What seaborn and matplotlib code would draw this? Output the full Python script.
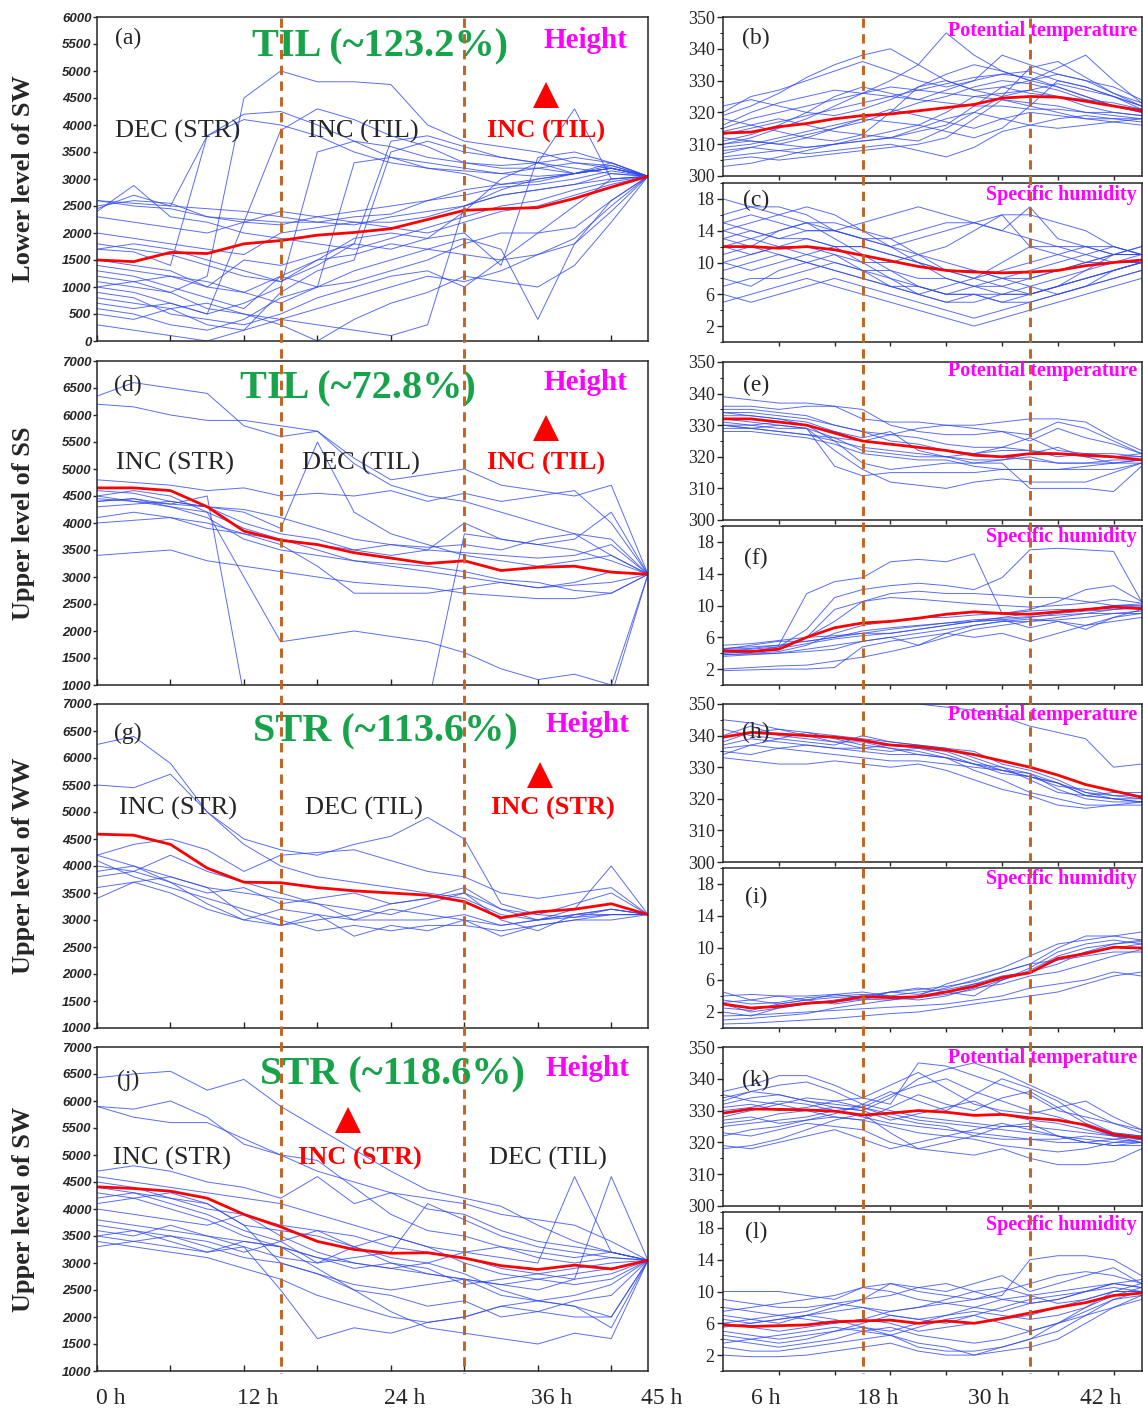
import numpy as np
import pandas as pd
import matplotlib
matplotlib.use("Agg")
import matplotlib.pyplot as plt
import matplotlib.transforms as mtransforms
from matplotlib.lines import Line2D
import seaborn as sns

# ---------------- data (3-hourly) ----------------
hours = list(range(0, 46, 3))

# (a) lower level of SW, height
a_mean = [1500, 1470, 1640, 1620, 1800, 1860, 1960, 2010, 2080, 2250, 2420, 2450, 2470, 2640, 2850, 3050]
a_lines = [
    [2500, 2600, 2550, 2300, 2200, 2150, 2300, 2400, 2500, 2600, 2800, 2900, 3000, 3100, 3200, 3050],
    [2600, 2550, 2500, 2450, 2400, 2300, 2200, 2300, 2350, 2600, 2700, 2850, 2900, 3000, 3150, 3050],
    [2450, 2700, 2500, 3800, 4200, 4250, 4000, 3700, 3400, 3200, 3100, 2900, 2950, 3100, 3250, 3050],
    [1700, 1650, 1400, 3800, 4100, 4000, 3800, 3500, 3300, 3200, 3150, 3100, 3200, 3300, 3250, 3050],
    [1100, 1000, 900, 1200, 4500, 5000, 4800, 4800, 4750, 4000, 3700, 3600, 3500, 3300, 3200, 3050],
    [700, 600, 700, 500, 2200, 3900, 4300, 4100, 3800, 3600, 3300, 3250, 3300, 3400, 3300, 3050],
    [1000, 900, 700, 500, 700, 1000, 3500, 3700, 3600, 3400, 3300, 3200, 3200, 3100, 3200, 3050],
    [1300, 1200, 1000, 800, 600, 1200, 1000, 3300, 3400, 3300, 3200, 3100, 3050, 3100, 3300, 3050],
    [500, 400, 600, 300, 200, 900, 1300, 1500, 3500, 3700, 3500, 3400, 3300, 3100, 3200, 3050],
    [1800, 1700, 1600, 1400, 1200, 1100, 1500, 1900, 2000, 1900, 2000, 1400, 3400, 3500, 3300, 3050],
    [900, 800, 500, 400, 300, 500, 800, 1000, 1200, 1300, 1000, 1500, 2000, 2500, 3000, 3050],
    [1500, 1400, 1300, 1000, 900, 1200, 1500, 1600, 1800, 1700, 1600, 1500, 1600, 1800, 2600, 3050],
    [2000, 1900, 1800, 1700, 1600, 2000, 2100, 2200, 2100, 2000, 2200, 2400, 2500, 2700, 2900, 3050],
    [600, 500, 300, 200, 400, 800, 1000, 1100, 1300, 1500, 1800, 2000, 2000, 2100, 2600, 3050],
    [1200, 1100, 900, 600, 500, 400, 600, 800, 1000, 1200, 1100, 1300, 1600, 1900, 2500, 3050],
    [800, 700, 600, 700, 500, 300, 0, 400, 700, 900, 1200, 1100, 1000, 1400, 2200, 3050],
    [2600, 2500, 2450, 2300, 2250, 2200, 2200, 2150, 2300, 2400, 2500, 2700, 2800, 2900, 3100, 3050],
    [1700, 1800, 1700, 1500, 1300, 1100, 1400, 1800, 3700, 3800, 3600, 3400, 3300, 3200, 3100, 3050],
    [300, 200, 100, 0, 200, 400, 300, 200, 100, 300, 2500, 2800, 3000, 3100, 3200, 3050],
    [1400, 1300, 1200, 1000, 1500, 1400, 1600, 1800, 1700, 1900, 2400, 3000, 3300, 4300, 3000, 3050],
    [1000, 1100, 1200, 1100, 900, 700, 1000, 1300, 1500, 1700, 1900, 1700, 400, 1800, 2400, 3050],
    [2300, 2200, 2100, 2000, 2200, 2400, 2300, 2200, 2200, 2300, 2500, 2700, 2800, 2900, 3000, 3050],
    [2400, 2880, 2300, 2200, 2000, 1900, 1800, 1700, 1900, 2100, 2300, 2500, 2600, 2800, 2950, 3050],
]

# (b) potential temperature / (c) specific humidity for (a)
b_mean = [313.5, 313.8, 315.5, 316.5, 318, 319, 319.5, 320.5, 321.5, 322.5, 324.5, 325, 324.8, 323.5, 322, 320.5]
b_lines = [
    [306, 307, 308, 309, 310, 312, 314, 316, 320, 325, 326, 327, 325, 322, 320, 319],
    [308, 309, 311, 313, 315, 317, 320, 323, 325, 328, 330, 329, 327, 324, 322, 320],
    [310, 312, 315, 318, 322, 326, 330, 335, 345, 338, 333, 330, 328, 325, 322, 321],
    [315, 318, 320, 322, 324, 326, 328, 327, 326, 325, 324, 323, 322, 320, 319, 318],
    [320, 325, 327, 330, 333, 336, 333, 330, 328, 330, 332, 333, 330, 328, 325, 322],
    [312, 311, 310, 309, 310, 311, 312, 314, 316, 322, 328, 326, 325, 324, 323, 321],
    [305, 306, 305, 306, 307, 308, 309, 310, 312, 318, 324, 322, 320, 318, 317, 316],
    [318, 316, 314, 312, 311, 313, 320, 328, 330, 327, 325, 334, 336, 331, 326, 322],
    [309, 310, 312, 314, 316, 318, 321, 319, 317, 315, 318, 320, 319, 318, 318, 318],
    [322, 324, 322, 320, 319, 321, 324, 328, 332, 335, 333, 330, 332, 330, 326, 323],
    [314, 316, 318, 316, 314, 313, 312, 311, 315, 320, 325, 327, 329, 327, 325, 322],
    [307, 309, 308, 307, 308, 309, 310, 308, 306, 309, 314, 316, 318, 319, 318, 317],
    [311, 313, 316, 320, 325, 328, 326, 324, 327, 330, 338, 335, 332, 330, 328, 324],
    [316, 320, 323, 325, 327, 326, 325, 324, 323, 322, 322, 321, 321, 320, 320, 319],
    [303, 304, 306, 308, 310, 311, 312, 315, 318, 320, 318, 316, 315, 316, 317, 318],
    [319, 322, 326, 331, 335, 338, 340, 335, 330, 327, 328, 330, 334, 338, 330, 323],
    [313, 315, 317, 319, 321, 323, 325, 327, 329, 331, 332, 331, 328, 325, 322, 320],
    [310, 311, 310, 312, 315, 318, 317, 316, 314, 312, 315, 322, 330, 328, 325, 321],
]
c_mean = [12, 12, 11.8, 12, 11.6, 10.9, 10.2, 9.5, 9, 8.8, 8.7, 8.8, 9, 9.6, 10, 10.3]
c_lines = [
    [16, 17, 17, 16, 14, 13, 12, 11, 10, 9, 8, 9, 10, 11, 12, 11],
    [14, 15, 16, 17, 16, 14, 12, 10, 8, 7, 7, 8, 9, 10, 11, 11],
    [13, 14, 13, 14, 14, 13, 13, 14, 15, 15, 14, 13, 12, 12, 11, 11],
    [12, 11, 12, 13, 12, 10, 8, 6, 5, 6, 6, 7, 8, 9, 10, 10],
    [10, 9, 10, 11, 12, 12, 11, 10, 9, 8, 7, 6, 7, 8, 9, 10],
    [8, 7, 9, 10, 11, 9, 7, 6, 5, 5, 6, 6, 7, 8, 9, 10],
    [15, 16, 15, 14, 14, 15, 16, 17, 16, 15, 14, 17, 13, 12, 11, 11],
    [6, 5, 6, 7, 8, 7, 6, 5, 4, 3, 4, 5, 6, 7, 8, 9],
    [11, 12, 14, 15, 13, 11, 9, 7, 6, 7, 8, 7, 6, 7, 9, 10],
    [18, 17, 16, 15, 14, 13, 12, 13, 14, 15, 16, 16, 15, 14, 12, 11],
    [9, 10, 11, 10, 9, 8, 7, 6, 7, 8, 9, 10, 11, 12, 12, 11],
    [13, 12, 11, 10, 9, 8, 7, 7, 6, 6, 5, 6, 7, 8, 9, 10],
    [14, 13, 14, 15, 15, 14, 13, 11, 9, 8, 10, 12, 12, 11, 10, 11],
    [5, 6, 7, 8, 7, 6, 5, 4, 3, 2, 3, 4, 5, 6, 7, 8],
    [12, 13, 12, 11, 10, 9, 9, 8, 8, 7, 6, 6, 7, 9, 11, 12],
    [10, 11, 12, 12, 11, 10, 10, 11, 12, 14, 16, 12, 11, 10, 10, 10],
    [7, 8, 8, 9, 10, 9, 8, 7, 6, 6, 5, 5, 6, 7, 8, 9],
    [15, 14, 13, 13, 12, 12, 11, 10, 9, 9, 8, 8, 9, 10, 11, 12],
]

# (d) upper level of SS, height
d_mean = [4650, 4650, 4600, 4300, 3850, 3680, 3600, 3450, 3350, 3250, 3300, 3120, 3180, 3200, 3090, 3050]
d_lines = [
    [6350, 6600, 6500, 6400, 5800, 5600, 5700, 5200, 4800, 4900, 5000, 4700, 4600, 4500, 4700, 3050],
    [6200, 6150, 6000, 5900, 5900, 5800, 5700, 5100, 4700, 4500, 4400, 4200, 4000, 3800, 3700, 3050],
    [4800, 4750, 4700, 4600, 4650, 4500, 4550, 4500, 4600, 4400, 4550, 4400, 4500, 4600, 4000, 3050],
    [4600, 4550, 4400, 4300, 4000, 3800, 3700, 3500, 3600, 3550, 3600, 3500, 3700, 3800, 3400, 3050],
    [4500, 4600, 4500, 4200, 3900, 3700, 3500, 3300, 3200, 3100, 3000, 2900, 2800, 2850, 2900, 3050],
    [4400, 4450, 4300, 4100, 3700, 3500, 3400, 3300, 3250, 3200, 3100, 2950, 2900, 2750, 2700, 3050],
    [4400, 4450, 4350, 4500, 800, 700, 600, 600, 600, 700, 800, 700, 600, 700, 800, 3050],
    [4450, 4400, 4300, 4200, 3000, 1800, 1900, 2000, 1900, 1800, 1600, 1300, 1100, 1200, 1000, 3050],
    [4100, 4200, 4100, 4000, 3800, 3600, 3200, 2700, 2700, 2700, 2800, 2900, 2800, 2900, 3100, 3050],
    [3400, 3450, 3500, 3300, 3200, 3100, 3000, 2900, 2850, 2800, 2700, 2650, 2600, 2600, 2700, 3050],
    [4500, 4400, 4350, 4300, 4200, 3900, 5500, 4200, 3800, 3600, 3400, 3300, 3200, 3300, 3400, 3050],
    [4000, 4050, 4100, 3900, 3800, 3700, 3600, 3500, 3400, 3500, 4000, 3700, 3600, 3500, 3300, 3050],
    [600, 600, 600, 600, 600, 600, 600, 600, 600, 600, 3800, 3700, 3600, 3700, 4200, 3050],
    [4300, 4350, 4400, 4300, 4250, 4100, 3900, 3700, 3600, 3500, 3450, 3400, 3350, 3400, 3600, 3050],
]
e_mean = [332, 332, 331, 330, 327.5, 325, 324, 323, 322, 320.5, 320, 321, 321, 320.5, 320, 319]
e_lines = [
    [339, 338, 337, 337, 336, 332, 331, 331, 330, 330, 331, 332, 332, 331, 326, 322],
    [336, 336, 335, 336, 336, 335, 330, 328, 327, 327, 328, 325, 329, 326, 324, 321],
    [334, 333, 332, 330, 328, 326, 328, 322, 320, 319, 319, 321, 323, 320, 318, 319],
    [331, 330, 329, 329, 317, 314, 315, 315, 315, 315, 316, 316, 316, 316, 316, 318],
    [330, 330, 331, 330, 325, 318, 316, 317, 318, 318, 318, 310, 310, 310, 309, 317],
    [330, 329, 330, 329, 322, 316, 312, 311, 310, 312, 313, 312, 312, 312, 315, 318],
    [333, 333, 332, 331, 328, 325, 324, 323, 322, 321, 323, 326, 322, 321, 320, 320],
    [329, 329, 328, 327, 325, 323, 322, 321, 320, 321, 322, 322, 321, 320, 320, 321],
    [335, 335, 334, 333, 330, 328, 327, 329, 330, 329, 328, 327, 331, 329, 325, 321],
    [332, 331, 330, 329, 326, 322, 321, 320, 320, 318, 319, 320, 318, 318, 318, 319],
    [330, 329, 328, 327, 326, 325, 327, 326, 324, 323, 323, 322, 320, 321, 321, 320],
    [328, 328, 327, 326, 324, 321, 320, 319, 319, 317, 316, 316, 316, 317, 318, 318],
    [334, 334, 333, 332, 330, 328, 325, 324, 322, 321, 320, 319, 318, 318, 319, 319],
]
f_mean = [4.3, 4.2, 4.5, 6.0, 7.2, 7.8, 8.0, 8.4, 8.9, 9.2, 9.0, 8.9, 9.2, 9.5, 9.8, 9.6]
f_lines = [
    [4.5, 4.6, 5.0, 11.5, 13.0, 13.5, 15.5, 15.8, 15.5, 16.5, 9.0, 9.3, 9.5, 9.5, 10.0, 9.8],
    [4.0, 4.2, 4.8, 7.0, 11.0, 12.0, 12.5, 12.8, 12.5, 12.0, 13.5, 17.0, 17.2, 17.0, 16.8, 10.5],
    [4.2, 4.3, 4.5, 6.0, 8.0, 10.5, 11.5, 11.8, 11.5, 11.5, 11.3, 11.0, 11.0, 10.5, 10.0, 10.0],
    [3.8, 4.0, 4.2, 5.0, 6.5, 7.5, 8.0, 8.5, 8.5, 8.8, 9.0, 9.5, 10.5, 12.0, 12.5, 10.5],
    [4.5, 5.0, 5.5, 5.5, 6.0, 6.5, 6.5, 7.0, 7.5, 8.0, 8.5, 9.0, 9.2, 9.5, 10.0, 10.2],
    [4.6, 4.8, 5.0, 5.5, 6.0, 6.8, 7.2, 7.5, 7.8, 8.0, 8.2, 8.5, 9.0, 9.3, 9.5, 9.8],
    [3.6, 3.8, 4.0, 4.5, 5.0, 5.5, 6.0, 6.5, 7.0, 7.5, 8.0, 8.0, 8.2, 8.5, 9.0, 9.3],
    [4.0, 4.2, 4.6, 5.2, 5.8, 6.2, 6.5, 7.0, 7.5, 8.0, 8.2, 7.2, 8.0, 7.0, 8.5, 9.0],
    [2.0, 2.2, 2.4, 2.5, 3.0, 3.5, 4.2, 5.0, 6.0, 7.0, 7.5, 8.0, 8.5, 9.0, 9.5, 9.7],
    [1.8, 1.9, 2.0, 2.0, 2.2, 4.8, 5.5, 6.0, 6.5, 6.0, 6.5, 5.5, 6.5, 7.5, 8.0, 8.5],
    [5.0, 5.2, 5.6, 6.0, 6.2, 6.5, 7.0, 7.4, 7.8, 8.2, 8.4, 8.6, 8.8, 9.0, 9.0, 9.0],
    [3.8, 3.9, 4.0, 4.2, 4.5, 5.5, 6.0, 5.0, 6.5, 7.5, 8.0, 8.3, 8.0, 7.5, 8.5, 9.5],
    [4.3, 4.5, 4.8, 6.0, 9.5, 10.5, 11.0, 10.8, 10.5, 10.2, 10.0, 9.8, 10.0, 10.3, 10.8, 10.3],
]

# (g) upper level of WW, height
g_mean = [4590, 4570, 4400, 3960, 3700, 3690, 3600, 3540, 3500, 3460, 3340, 3040, 3150, 3200, 3300, 3100]
g_lines = [
    [6250, 6400, 5900, 5000, 4400, 4000, 3800, 3700, 3600, 3500, 3400, 3100, 3000, 3100, 3200, 3100],
    [5500, 5450, 5700, 5000, 4500, 4300, 4200, 4400, 4550, 4900, 4500, 3300, 3100, 3050, 3200, 3100],
    [4200, 4400, 4500, 4300, 3900, 4200, 4250, 4300, 4100, 3900, 3800, 3500, 3400, 3500, 3600, 3100],
    [3900, 4000, 3700, 3500, 3600, 3300, 3400, 3500, 3300, 3400, 3500, 3200, 3100, 3300, 3500, 3100],
    [3800, 3900, 3700, 3300, 3000, 3200, 3100, 3000, 3200, 3100, 3000, 2900, 3000, 3050, 3100, 3100],
    [4100, 3800, 3600, 3400, 3200, 3000, 2800, 2900, 2800, 2900, 2900, 2800, 2900, 3000, 3100, 3100],
    [3400, 3700, 3800, 3600, 3100, 2900, 3100, 2700, 2900, 2800, 3000, 2700, 2900, 3000, 3000, 3100],
    [4000, 3900, 4200, 3900, 3700, 3500, 3300, 3200, 3100, 3300, 3500, 3000, 2800, 3100, 3200, 3100],
    [3600, 3700, 3500, 3200, 3000, 2900, 3000, 3100, 3300, 3400, 3600, 3200, 3000, 3200, 4000, 3100],
    [4200, 4000, 3800, 3600, 3500, 3400, 3300, 3000, 3000, 3000, 3100, 2900, 3000, 3100, 3100, 3100],
]
h_mean = [339.5, 341, 340.5, 340, 339.5, 338.5, 337, 336.5, 335.5, 334, 332, 330, 327.5, 324.5, 322.5, 320.5]
h_lines = [
    [351, 351, 350, 350, 350, 350, 350, 350, 349, 348, 346, 343, 341, 339, 330, 331],
    [334, 337, 336, 335, 334, 333, 332, 332, 331, 330, 329, 327, 325, 322, 320, 319],
    [345, 344, 342, 341, 340, 339, 338, 337, 336, 333, 330, 328, 323, 320, 319, 319],
    [337, 339, 338, 337, 336, 335, 334, 334, 333, 329, 326, 322, 320, 318, 318, 319],
    [342, 340, 339, 338, 337, 340, 338, 337, 336, 335, 331, 329, 326, 322, 321, 320],
    [335, 334, 336, 337, 336, 336, 335, 336, 335, 332, 329, 328, 325, 321, 320, 320],
    [338, 341, 342, 340, 338, 336, 337, 336, 334, 331, 328, 327, 324, 323, 321, 321],
    [333, 332, 331, 331, 332, 331, 330, 331, 329, 326, 323, 321, 318, 317, 318, 318],
    [340, 343, 340, 339, 338, 338, 336, 335, 333, 331, 330, 326, 322, 321, 322, 322],
    [336, 337, 339, 341, 339, 337, 336, 334, 333, 331, 329, 327, 325, 321, 320, 319],
]
i_mean = [3.0, 2.5, 2.7, 3.1, 3.3, 3.9, 3.8, 3.9, 4.5, 5.2, 6.3, 6.9, 8.7, 9.3, 10.1, 10.0]
i_lines = [
    [1.5, 1.6, 1.8, 2.0, 2.2, 2.4, 2.6, 2.8, 3.0, 3.5, 4.0, 5.0, 5.5, 6.0, 7.0, 6.5],
    [4.5, 3.5, 4.0, 4.0, 4.2, 4.5, 4.0, 3.8, 4.5, 5.5, 6.0, 7.5, 9.5, 10.5, 11.0, 10.5],
    [3.0, 2.0, 2.5, 3.0, 3.5, 4.0, 4.5, 4.2, 5.0, 6.0, 7.0, 8.0, 10.0, 11.5, 11.5, 11.0],
    [2.0, 1.5, 2.5, 3.0, 3.3, 3.6, 3.5, 4.0, 5.5, 6.5, 7.5, 9.0, 10.5, 11.0, 11.5, 12.0],
    [4.0, 4.2, 4.0, 3.5, 3.0, 3.5, 4.5, 5.0, 4.5, 4.0, 6.0, 7.0, 8.0, 9.5, 10.0, 10.5],
    [3.5, 3.0, 3.2, 3.8, 4.0, 4.2, 4.0, 4.5, 4.8, 5.5, 6.5, 7.0, 8.5, 9.0, 9.5, 9.5],
    [2.5, 2.2, 3.0, 3.5, 3.8, 4.0, 3.8, 3.5, 4.0, 5.0, 5.5, 6.5, 7.0, 8.0, 9.0, 9.8],
    [1.0, 1.2, 1.5, 1.8, 2.5, 3.0, 3.5, 3.8, 4.2, 4.8, 6.0, 7.2, 9.0, 10.0, 10.5, 10.8],
    [3.2, 3.5, 3.0, 3.5, 4.2, 3.8, 4.5, 4.8, 5.2, 5.8, 7.0, 8.0, 8.5, 9.5, 10.5, 11.0],
    [0.5, 0.6, 0.8, 1.0, 1.2, 1.5, 1.8, 2.0, 2.5, 3.0, 3.5, 4.0, 4.5, 5.5, 6.5, 7.0],
]

# (j) upper level of SW, height
j_mean = [4410, 4380, 4330, 4200, 3900, 3670, 3400, 3250, 3180, 3190, 3090, 2950, 2880, 2960, 2890, 3050]
j_lines = [
    [6430, 6500, 6550, 6200, 6400, 5900, 5500, 5100, 4700, 4350, 4200, 4050, 3700, 3400, 3200, 3050],
    [5900, 5850, 6000, 5700, 5200, 5000, 4700, 4500, 4300, 4200, 4100, 3900, 3800, 3700, 3400, 3050],
    [5900, 5700, 5600, 5600, 5300, 5000, 4900, 4400, 3900, 3600, 3500, 3300, 3200, 3100, 3200, 3050],
    [4700, 4800, 4700, 4500, 4400, 4200, 4600, 4100, 4300, 4000, 3900, 3600, 3400, 3300, 3200, 3050],
    [4600, 4500, 4400, 4300, 4200, 4100, 3900, 3700, 3500, 3300, 3200, 3100, 3000, 4600, 3200, 3050],
    [4400, 4300, 4200, 4000, 3900, 3700, 3600, 3500, 3300, 3200, 3100, 2900, 2800, 2700, 4600, 3050],
    [4200, 4300, 4100, 3900, 3600, 3400, 3000, 3300, 3500, 3300, 3000, 2800, 2700, 2600, 2700, 3050],
    [4300, 4200, 4300, 4100, 3700, 3000, 2800, 2600, 2500, 2600, 2700, 2400, 2300, 2400, 2600, 3050],
    [4000, 3900, 3800, 3700, 3900, 3500, 3200, 3000, 2900, 2800, 2700, 2600, 2700, 2800, 2900, 3050],
    [3800, 3700, 3600, 3500, 3400, 3300, 2900, 2500, 2400, 2200, 2300, 2000, 2100, 2000, 2000, 3050],
    [3600, 3500, 3700, 3500, 3300, 2500, 1600, 1800, 1700, 1900, 2000, 2200, 2100, 2300, 2400, 3050],
    [3500, 3400, 3500, 3300, 3100, 3000, 2800, 2500, 2100, 1800, 1700, 1600, 1500, 1700, 1600, 3050],
    [3400, 3300, 3200, 3100, 2900, 2700, 2400, 2200, 2000, 1900, 2000, 2200, 2300, 2200, 2000, 3050],
    [3700, 3600, 3500, 3400, 3200, 3400, 3600, 3300, 3100, 3000, 3200, 3300, 3100, 3000, 3100, 3050],
    [3500, 3600, 3400, 3200, 3300, 3100, 3000, 3100, 3200, 4100, 3800, 3500, 3300, 3200, 3100, 3050],
    [4500, 4400, 4200, 4100, 3700, 3600, 3500, 3300, 3000, 2800, 2700, 2600, 2500, 2700, 2800, 3050],
    [3300, 3400, 3300, 3200, 3400, 3300, 3100, 2900, 3000, 2900, 2600, 2700, 2800, 2900, 3000, 3050],
    [4100, 4200, 4000, 3800, 3500, 3300, 3100, 3000, 2900, 3000, 2800, 2500, 2300, 2200, 1800, 3050],
]
k_mean = [329.2, 330.5, 330.4, 330.2, 329.8, 328.6, 329.2, 330, 329.5, 328.5, 328.8, 327.7, 327, 325.5, 322.5, 321.4]
k_lines = [
    [336, 338, 341, 341, 338, 334, 332, 345, 344, 341, 338, 335, 330, 328, 326, 323],
    [334, 336, 335, 333, 331, 330, 334, 340, 343, 345, 342, 338, 334, 330, 326, 324],
    [318, 319, 321, 324, 327, 329, 323, 318, 320, 322, 325, 326, 322, 320, 319, 320],
    [323, 322, 324, 326, 325, 324, 320, 318, 317, 316, 318, 315, 313, 313, 314, 318],
    [328, 330, 332, 334, 333, 331, 335, 338, 340, 336, 333, 330, 328, 325, 322, 321],
    [330, 331, 333, 332, 330, 328, 326, 325, 324, 323, 322, 321, 320, 320, 319, 319],
    [332, 334, 335, 333, 332, 331, 329, 327, 326, 325, 324, 323, 322, 321, 320, 320],
    [327, 328, 326, 327, 329, 332, 336, 333, 330, 335, 340, 337, 333, 327, 323, 322],
    [325, 326, 327, 328, 330, 331, 328, 326, 325, 322, 321, 321, 321, 322, 321, 320],
    [319, 318, 320, 322, 324, 321, 318, 320, 322, 321, 319, 318, 317, 318, 320, 321],
    [331, 332, 330, 331, 333, 334, 338, 342, 337, 332, 330, 329, 331, 333, 328, 324],
    [335, 333, 332, 330, 328, 327, 325, 323, 322, 324, 326, 324, 322, 320, 321, 322],
    [322, 324, 325, 327, 328, 327, 331, 335, 332, 330, 334, 336, 331, 326, 323, 322],
    [333, 336, 338, 339, 336, 332, 330, 328, 327, 326, 325, 325, 324, 323, 322, 321],
    [326, 327, 329, 330, 331, 330, 327, 329, 331, 333, 329, 327, 326, 324, 322, 320],
]
l_mean = [5.8, 5.6, 5.7, 5.8, 6.2, 6.3, 6.4, 6.0, 6.3, 6.0, 6.6, 7.3, 8.0, 8.6, 9.5, 9.8]
l_lines = [
    [10, 10, 10, 9.5, 9, 10.5, 11, 10, 9.5, 9, 9.5, 14, 14.5, 14.5, 14, 12],
    [7, 6.5, 6, 7, 8, 9, 11, 10.5, 10, 11, 12, 10, 11, 12, 13, 11],
    [5, 4.5, 4, 4.5, 5, 6, 7, 6.5, 6, 7, 8, 9, 9.5, 10, 11, 10.5],
    [8, 7.5, 7, 7.5, 8.5, 8, 7.5, 8, 8.5, 8, 7.5, 8.5, 9, 10, 10.5, 10],
    [6, 5.5, 5, 5.5, 6, 6.5, 6, 5, 5.5, 6, 6.5, 7, 8, 9, 10, 10],
    [4, 3.5, 3, 3.5, 4, 5, 5.5, 4.5, 4, 3.5, 4, 5, 6, 7.5, 9, 9.5],
    [3, 2.5, 2.5, 3, 3.5, 4, 4.5, 3, 2.5, 2.5, 3, 4, 5, 7, 9, 10],
    [7.5, 8, 8.5, 9, 9.5, 10.5, 10, 9, 8.5, 9, 10, 11, 12, 12.5, 12, 11],
    [6.5, 6, 6.5, 7, 7.5, 8, 7, 6.5, 7, 8, 9, 9.5, 10, 10.5, 11, 10.5],
    [4.5, 4, 3.5, 4, 5, 5.5, 4.5, 3.5, 3, 2, 3, 4, 6, 8, 10, 11],
    [5.5, 6, 6.5, 7, 6.5, 5.5, 5, 6, 7, 7.5, 7, 6.5, 7, 8, 9.5, 10.5],
    [2, 1.8, 1.8, 2, 2.5, 3, 3.5, 2.5, 2, 2, 2.5, 3, 4, 6, 8, 9],
    [9, 8.5, 8, 8, 8.5, 9, 9.5, 10.5, 11, 10, 9, 8.5, 9, 10, 11, 11.5],
    [6, 6.5, 7, 6.5, 6, 6.5, 7.5, 8, 9, 10, 10.5, 9.5, 8.5, 9, 10, 10],
    [3.5, 4, 4.5, 5, 5.5, 5, 4.5, 5.5, 6.5, 7, 6, 5, 6, 7, 8, 9.5],
]

left_titles = ["TIL (~123.2%)", "TIL (~72.8%)", "STR (~113.6%)", "STR (~118.6%)"]
left_ylabels = ["Lower level of SW", "Upper level of SS", "Upper level of WW", "Upper level of SW"]
phase_labels = [
    ["DEC (STR)", "INC (TIL)", "INC (TIL)"],
    ["INC (STR)", "DEC (TIL)", "INC (TIL)"],
    ["INC (STR)", "DEC (TIL)", "INC (STR)"],
    ["INC (STR)", "INC (STR)", "DEC (TIL)"],
]
highlight_phase = [2, 2, 2, 1]   # which phase label is red with the triangle

# ---------------- style ----------------
W, H = 1143, 1413
sns.set_style("ticks")
plt.rcParams["font.family"] = ["Liberation Serif", "DejaVu Serif"]
plt.rcParams["axes.linewidth"] = 1.1

BLUE = "#3049f0"
RED = "#ff0000"
GREEN = "#17a34a"
MAGENTA = "#ff00ff"
DASH = "#c4621f"

fig = plt.figure(figsize=(W / 100, H / 100), dpi=100)


def add_ax(x0, y0, x1, y1):
    return fig.add_axes([x0 / W, 1 - y1 / H, (x1 - x0) / W, (y1 - y0) / H])


def long_frame(lines):
    rows = []
    for k, vals in enumerate(lines):
        for t, v in zip(hours, vals):
            rows.append((k, t, v))
    return pd.DataFrame(rows, columns=["traj", "hour", "value"])


def draw(ax, lines, mean):
    sns.lineplot(data=long_frame(lines), x="hour", y="value", units="traj",
                 estimator=None, color=BLUE, lw=0.7, alpha=0.8, ax=ax, legend=False)
    sns.lineplot(x=hours, y=mean, color=RED, lw=2.0, ax=ax)
    ax.set_xlim(0, 45)
    ax.set_xlabel("")
    ax.set_ylabel("")


def ftext(x, y, s, **kw):
    kw.setdefault("ha", "center")
    kw.setdefault("va", "center")
    fig.text(x / W, 1 - y / H, s, **kw)


# ---------------- left column ----------------
left_boxes = [(17, 341), (361, 685), (704, 1028), (1047, 1371)]
left_data = [(a_lines, a_mean), (d_lines, d_mean), (g_lines, g_mean), (j_lines, j_mean)]
left_axes = []
for n, ((y0, y1), (lines, mean)) in enumerate(zip(left_boxes, left_data)):
    ax = add_ax(97, y0, 648, y1)
    draw(ax, lines, mean)
    if n == 0:
        ax.set_ylim(0, 6000)
        ax.set_yticks(range(0, 6001, 500))
    else:
        ax.set_ylim(1000, 7000)
        ax.set_yticks(range(1000, 7001, 500))
    ax.set_xticks(range(0, 43, 6))
    ax.set_xticklabels([])
    ax.tick_params(axis="x", direction="in", length=4, width=1)
    ax.tick_params(axis="y", direction="out", length=3, width=1, pad=1)
    for lab in ax.get_yticklabels():
        lab.set_fontfamily("Liberation Sans")
        lab.set_fontweight("bold")
        lab.set_fontstyle("italic")
        lab.set_fontsize(9.5)
    ax.set_ylabel(left_ylabels[n], fontsize=19, fontweight="bold", va="center")
    ax.yaxis.set_label_coords(-0.134, 0.5)
    left_axes.append(ax)

# x tick labels under (j)
ax = left_axes[-1]
base = mtransforms.blended_transform_factory(ax.transData, ax.transAxes)
for h, s in zip([0, 12, 24, 36, 45], ["0 h", "12 h", "24 h", "36 h", "45 h"]):
    tr = mtransforms.offset_copy(base, fig=fig, x=14, y=-27, units="dots")
    ax.text(h, 0, s, transform=tr, ha="center", va="center", fontsize=17)

# ---------------- right column ----------------
right_boxes = [(17, 176), (183, 342), (362, 520), (526, 685),
               (704, 862), (868, 1028), (1047, 1206), (1212, 1371)]
right_data = [(b_lines, b_mean), (c_lines, c_mean), (e_lines, e_mean), (f_lines, f_mean),
              (h_lines, h_mean), (i_lines, i_mean), (k_lines, k_mean), (l_lines, l_mean)]
right_axes = []
for n, ((y0, y1), (lines, mean)) in enumerate(zip(right_boxes, right_data)):
    ax = add_ax(723, y0, 1141.5, y1)
    draw(ax, lines, mean)
    if n % 2 == 0:
        ax.set_ylim(300, 350)
        ax.set_yticks(range(300, 351, 10))
        ax.set_yticks(range(305, 350, 10), minor=True)
    else:
        ax.set_ylim(0, 20)
        ax.set_yticks([2, 6, 10, 14, 18])
        ax.set_yticks(range(0, 21, 4), minor=True)
    ax.set_xticks(range(6, 43, 6))
    ax.set_xticklabels([])
    ax.tick_params(axis="x", direction="out", length=3, width=1)
    ax.tick_params(axis="y", which="major", direction="out", length=4, width=1, pad=2, labelsize=13)
    ax.tick_params(axis="y", which="minor", direction="out", length=2.5, width=0.8)
    right_axes.append(ax)

ax = right_axes[-1]
base = mtransforms.blended_transform_factory(ax.transData, ax.transAxes)
for h, s in zip([6, 18, 30, 42], ["6 h", "18 h", "30 h", "42 h"]):
    tr = mtransforms.offset_copy(base, fig=fig, x=-13, y=-27, units="dots")
    ax.text(h, 0, s, transform=tr, ha="center", va="center", fontsize=17)

# ---------------- dashed phase boundaries (span whole column) ----------------
for hx, (x0, x1) in [(15, (97, 648)), (30, (97, 648)), (15, (723, 1141.5)), (33, (723, 1141.5))]:
    xf = (x0 + (x1 - x0) * hx / 45) / W
    fig.add_artist(Line2D([xf, xf], [1 - 18 / H, 1 - 1373 / H], transform=fig.transFigure,
                          color=DASH, lw=2.1, dashes=(3.2, 2.2), zorder=5))

# ---------------- annotations ----------------
letters_left = ["(a)", "(d)", "(g)", "(j)"]
letter_y = [38, 385, 733, 1080]
title_pos = [(380, 47), (358, 389), (385, 732), (392, 1075)]
height_pos = [(585, 40), (585, 383), (587, 725), (587, 1068)]
phase_y = [131, 463, 808, 1158]
phase_x = [[178, 363, 546], [175, 361, 546], [178, 364, 553], [172, 360, 548]]
tri_pos = [(546, 95), (546, 428), (540, 775), (348, 1120)]

for n in range(4):
    ftext(128, letter_y[n], letters_left[n], fontsize=17)
    ftext(*title_pos[n], left_titles[n], fontsize=29, fontweight="bold", color=GREEN)
    ftext(*height_pos[n], "Height", fontsize=21, fontweight="bold", color=MAGENTA)
    for m, s in enumerate(phase_labels[n]):
        if m == highlight_phase[n]:
            ftext(phase_x[n][m], phase_y[n], s, fontsize=19, fontweight="bold", color=RED)
        else:
            ftext(phase_x[n][m], phase_y[n], s, fontsize=19)
    tx, ty = tri_pos[n]
    fig.add_artist(Line2D([tx / W], [1 - ty / H], transform=fig.transFigure, marker="^",
                          markersize=19, color=RED, markeredgewidth=0, zorder=6))

letters_right = ["(b)", "(c)", "(e)", "(f)", "(h)", "(i)", "(k)", "(l)"]
rletter_y = [38, 200, 385, 558, 732, 897, 1080, 1232]
rlabel_y = [31, 195, 371, 537, 715, 879, 1058, 1225]
for n in range(8):
    ftext(756, rletter_y[n], letters_right[n], fontsize=17)
    s = "Potential temperature" if n % 2 == 0 else "Specific humidity"
    ftext(1137, rlabel_y[n], s, ha="right", fontsize=14.5, fontweight="bold", color=MAGENTA)

fig.savefig("out.png", dpi=100)
